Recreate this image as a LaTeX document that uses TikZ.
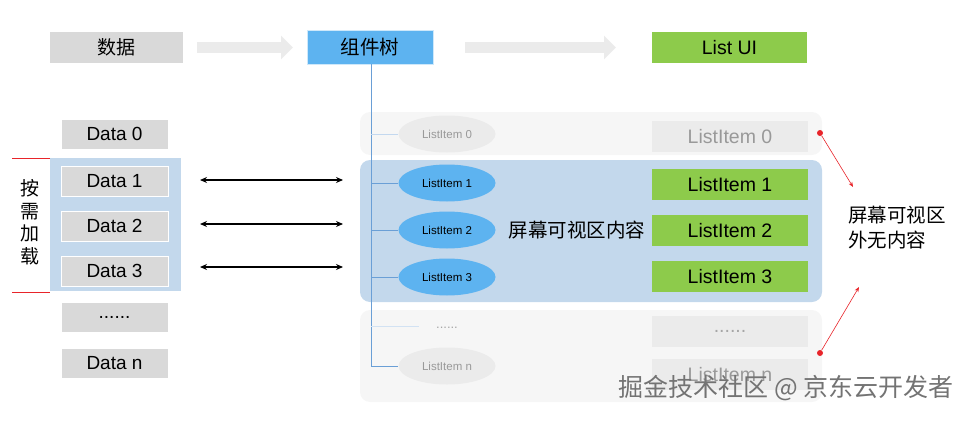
\documentclass[tikz,border=0pt]{standalone}
\usepackage{fontspec}
\setmainfont{Liberation Sans}
\newfontfamily\cjk{Noto Sans CJK SC}
\usetikzlibrary{arrows.meta,shapes.geometric}
\definecolor{gbox}{HTML}{D9D9D9}
\definecolor{lgbox}{HTML}{EBEBEB}
\definecolor{bluebox}{HTML}{5DB3F0}
\definecolor{greenbox}{HTML}{8DCB4B}
\definecolor{bluebg}{HTML}{C3D8EC}
\definecolor{faint}{HTML}{F6F6F6}
\definecolor{treeline}{HTML}{6A9FD6}
\definecolor{redc}{HTML}{E8242A}
\begin{document}
\begin{tikzpicture}[x=1pt,y=-1pt,
  databox/.style={fill=gbox,draw=white,line width=0.8pt,minimum width=107pt,minimum height=30pt,inner sep=0pt,font=\fontsize{19}{21}\selectfont},
  uibox/.style={minimum width=156pt,minimum height=31pt,inner sep=0pt,font=\fontsize{19.5}{21}\selectfont},
  ell/.style={ellipse,minimum width=97pt,minimum height=37pt,inner sep=0pt,font=\fontsize{11.5}{13}\selectfont},
  dbl/.style={{Stealth[length=7pt,width=6pt]}-{Stealth[length=7pt,width=6pt]},line width=1.4pt},
  bigarrow/.style={-{Triangle[length=12pt,width=23pt]},line width=11pt,draw=lgbox},
  redarrow/.style={-{Stealth[length=5pt,width=4pt]},draw=redc,line width=0.6pt}]
\useasboundingbox (0,0) rectangle (968,420);
% top row
\node[fill=gbox,minimum width=133pt,minimum height=31pt,inner sep=0pt,font=\cjk\fontsize{19}{21}\selectfont] (data) at (116.5,47.5) {数据};
\node[fill=bluebox,draw=white!70!bluebox,minimum width=126pt,minimum height=34pt,inner sep=0pt,font=\cjk\fontsize{19.5}{21}\selectfont] (tree) at (370,47) {组件树};
\node[fill=greenbox,minimum width=155pt,minimum height=31pt,inner sep=0pt,font=\fontsize{19.5}{21}\selectfont] (ui) at (729.5,47.5) {List UI};
\coordinate (a1s) at (197,47.5); \coordinate (a1e) at (293,47.5);
\coordinate (a2s) at (465,47.5); \coordinate (a2e) at (616,47.5);
\draw[bigarrow] (a1s) -- (a1e);
\draw[bigarrow] (a2s) -- (a2e);
% backgrounds
\fill[faint,rounded corners=10pt] (360,112) rectangle (822,155);
\fill[faint,rounded corners=10pt] (360,310) rectangle (822,402);
\node[fill=bluebg,rounded corners=10pt,minimum width=462pt,minimum height=142pt,inner sep=0pt] (screen) at (591,231) {};
\node[fill=bluebg,minimum width=131pt,minimum height=133pt,inner sep=0pt] (loadbg) at (115.5,224.5) {};
% left data column
\node[databox] (d0) at (114.5,134) {Data 0};
\node[databox] (d1) at (114.5,181) {Data 1};
\node[databox] (d2) at (114.5,226) {Data 2};
\node[databox] (d3) at (114.5,271) {Data 3};
\node[databox] (dd) at (114.5,317.5) {......};
\node[databox] (dn) at (114.5,363) {Data n};
% red bracket
\coordinate (rt1) at (12,158); \coordinate (rt2) at (50,158);
\coordinate (rb1) at (12,292); \coordinate (rb2) at (50,292);
\draw[redc,line width=0.6pt] (rt1) -- (rt2);
\draw[redc,line width=0.6pt] (rb1) -- (rb2);
\node[align=center,font=\cjk\fontsize{19}{22.5}\selectfont,inner sep=0pt] (load) at (30,222) {按\\需\\加\\载};
% tree
\node[ell,fill=lgbox,text=gray!80] (e0) at (447,134) {ListItem 0};
\node[ell,fill=bluebox] (e1) at (447,183) {ListItem 1};
\node[ell,fill=bluebox] (e2) at (447,230) {ListItem 2};
\node[ell,fill=bluebox] (e3) at (447,277) {ListItem 3};
\node[font=\fontsize{13}{14}\selectfont,text=gray!70,inner sep=0pt] (edots) at (447,328) {......};
\node[ell,fill=lgbox,text=gray!80] (en) at (447,366) {ListItem n};
\coordinate (tb) at (371,366);
\draw[treeline,line width=0.8pt] (tree.south -| tb) -- (tb);
\draw[treeline,line width=0.8pt] (tb) -- (en.west);
\draw[treeline!40,line width=0.8pt] (e0.west -| tb) -- (e0.west);
\draw[treeline,line width=0.8pt] (e1.west -| tb) -- (e1.west);
\draw[treeline,line width=0.8pt] (e2.west -| tb) -- (e2.west);
\draw[treeline,line width=0.8pt] (e3.west -| tb) -- (e3.west);
\coordinate (dotend) at (419,326);
\draw[treeline!30,line width=0.8pt] (dotend -| tb) -- (dotend);
\node[font=\cjk\fontsize{19.5}{21}\selectfont,inner sep=0pt] (vis) at (577,230) {屏幕可视区内容};
% right UI column
\node[uibox,fill=lgbox,text=gray!80] (u0) at (730,136.5) {ListItem 0};
\node[uibox,fill=greenbox] (u1) at (730,184.5) {ListItem 1};
\node[uibox,fill=greenbox] (u2) at (730,230.5) {ListItem 2};
\node[uibox,fill=greenbox] (u3) at (730,276.5) {ListItem 3};
\node[uibox,fill=lgbox,text=gray!70] (ud) at (730,331) {......};
\node[uibox,fill=lgbox,text=gray!80] (un) at (730,374.5) {ListItem n};
% double arrows
\coordinate (l1) at (200,180); \coordinate (r1) at (343,180);
\coordinate (l2) at (200,224); \coordinate (r2) at (343,224);
\coordinate (l3) at (200,267); \coordinate (r3) at (343,267);
\draw[dbl] (l1) -- (r1);
\draw[dbl] (l2) -- (r2);
\draw[dbl] (l3) -- (r3);
% red annotations
\node[circle,fill=redc,minimum size=6pt,inner sep=0pt] (p1) at (820,133) {};
\node[circle,fill=redc,minimum size=6pt,inner sep=0pt] (p2) at (820,353) {};
\coordinate (q1) at (853,187); \coordinate (q2) at (859,287);
\draw[redarrow] (p1) -- (q1);
\draw[redarrow] (p2) -- (q2);
\node[align=left,font=\cjk\fontsize{19.5}{25}\selectfont,inner sep=0pt] (out) at (897,228) {屏幕可视区\\外无内容};
% watermark
\node[font=\cjk\fontsize{25}{27}\selectfont,text=black!55,inner sep=0pt] (wm) at (786,388) {掘金技术社区 @ 京东云开发者};
\end{tikzpicture}
\end{document}
